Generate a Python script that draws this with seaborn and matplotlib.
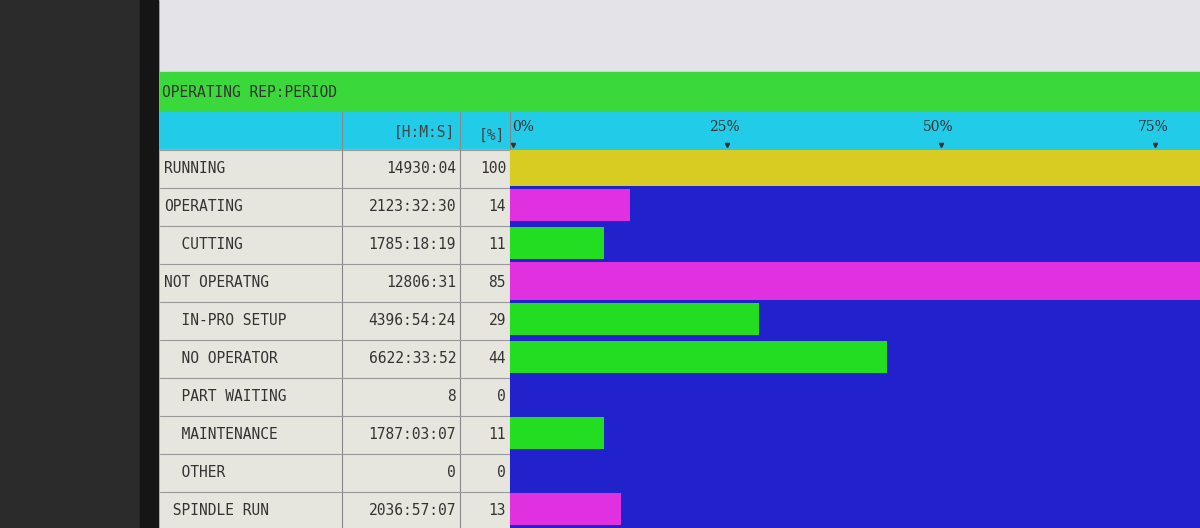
import matplotlib
matplotlib.use("Agg")
import matplotlib.pyplot as plt
import matplotlib.transforms as mtransforms
import seaborn as sns
import pandas as pd

names = ["RUNNING", "OPERATING", "  CUTTING", "NOT OPERATNG", "  IN-PRO SETUP", "  NO OPERATOR",
         "  PART WAITING", "  MAINTENANCE", "  OTHER", " SPINDLE RUN"]
times = ["14930:04", "2123:32:30", "1785:18:19", "12806:31", "4396:54:24", "6622:33:52",
         "8", "1787:03:07", "0", "2036:57:07"]
percent = [100, 14, 11, 85, 29, 44, 0, 11, 0, 13]
bar_colors = ["#d8cc22", "#e030e0", "#22dd22", "#e030e0", "#22dd22", "#22dd22",
              "#22dd22", "#22dd22", "#22dd22", "#e030e0"]
row_bg = ["#d8cc22", "#2222cc", "#2222cc", "#e030e0", "#2222cc", "#2222cc",
          "#2222cc", "#2222cc", "#2222cc", "#2222cc"]
ticks = [0, 25, 50, 75]
tick_labels = ["0%", "25%", "50%", "75%"]

sns.set_theme(style="white")
plt.rcParams['font.family'] = ['DejaVu Sans Mono', 'DejaVu Sans']

W, H = 1200, 528
fig = plt.figure(figsize=(12, 5.28), dpi=100)
fig.patch.set_facecolor("#e4e4e8")

def fx(px): return px / W
def fy(py): return 1 - py / H

fig.add_artist(plt.Rectangle((0, 0), fx(158), 1, transform=fig.transFigure, color="#2b2b2b", zorder=0))
fig.add_artist(plt.Rectangle((fx(140), 0), fx(18), 1, transform=fig.transFigure, color="#151515", zorder=0))
fig.add_artist(plt.Rectangle((fx(160), fy(112)), 1, fy(72) - fy(112), transform=fig.transFigure, color="#3ad83a", zorder=1))
fig.add_artist(plt.Rectangle((fx(160), fy(150)), 1, fy(112) - fy(150), transform=fig.transFigure, color="#22cce8", zorder=1))
fig.add_artist(plt.Rectangle((fx(160), 0), fx(350), fy(150), transform=fig.transFigure, color="#e6e6de", zorder=1))
fig.text(fx(162), fy(92), "OPERATING REP:PERIOD", fontsize=10.5, color="#333333", va="center", zorder=3)
fig.text(fx(455), fy(132), "[H:M:S]", fontsize=10.5, color="#444444", va="center", ha="right", zorder=3)
fig.text(fx(505), fy(135), "[%]", fontsize=10.5, color="#444444", va="center", ha="right", zorder=3)
for xp in [342, 460, 510]:
    fig.add_artist(plt.Line2D([fx(xp), fx(xp)], [0, fy(112)], transform=fig.transFigure, color="#888888", lw=0.8, zorder=2))

ax = fig.add_axes([fx(510), 0, 1 - fx(510), fy(150)])
ax.set_zorder(5)
n = len(names)
for i, c in enumerate(row_bg):
    ax.axhspan(i - 0.5, i + 0.5, color=c, zorder=0, lw=0)
df = pd.DataFrame({"name": names, "pct": percent})
sns.barplot(data=df, x="pct", y="name", hue="name", palette=bar_colors, legend=False,
            width=0.86, saturation=1, linewidth=0, ax=ax, zorder=2)
ax.set_xlim(0, 80.5)
ax.set_ylim(n - 0.5, -0.45)
ax.axis("off")

for i in range(n):
    ytop = fy(150) - i * fy(150) / (n - 0.05)
    yc = ytop - fy(150) / (n - 0.05) / 2
    fig.text(fx(164), yc, names[i], fontsize=10.5, color="#333333", va="center", zorder=3)
    fig.text(fx(456), yc, times[i], fontsize=10.5, color="#333333", va="center", ha="right", zorder=3)
    fig.text(fx(506), yc, str(percent[i]), fontsize=10.5, color="#333333", va="center", ha="right", zorder=3)
    fig.add_artist(plt.Line2D([fx(160), fx(510)], [ytop, ytop], transform=fig.transFigure, color="#999999", lw=0.8, zorder=2))

bt = mtransforms.blended_transform_factory(ax.transData, ax.transAxes)
for t, lab in zip(ticks, tick_labels):
    ax.text(t + (0.3 if t == 0 else 0), 1.06, lab, transform=bt, fontsize=10, color="#333333",
            ha="left" if t == 0 else "center", va="center", clip_on=False,
            family="DejaVu Serif")
    ax.plot([t + 0.3], [1.012], marker="v", ms=3, color="#333333", transform=bt, clip_on=False)

fig.savefig("out.png", dpi=100)
